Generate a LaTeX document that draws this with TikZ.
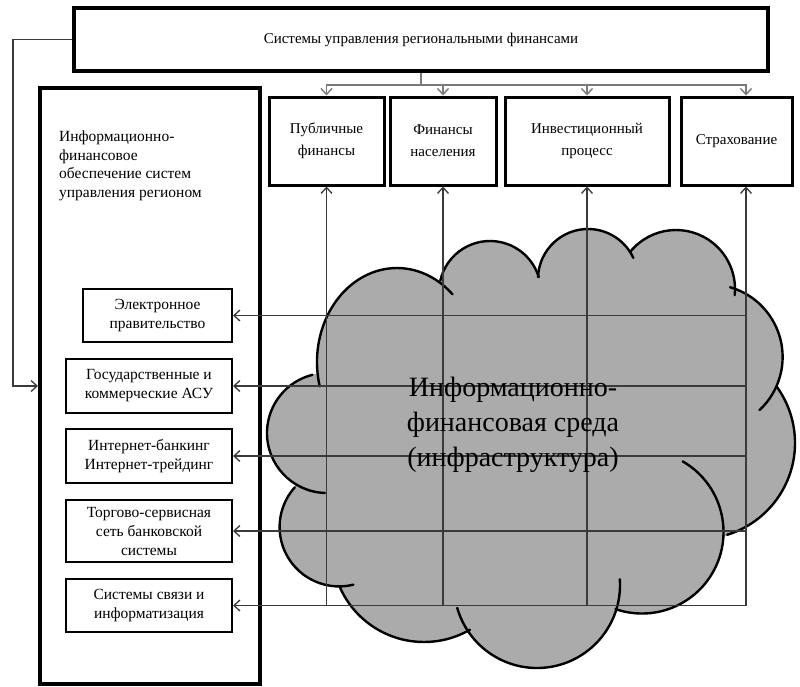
\documentclass[tikz,border=0pt]{standalone}
\usepackage{fontspec}
\setmainfont{Liberation Serif}
\usetikzlibrary{arrows.meta,calc}
\definecolor{cloudfill}{HTML}{ABABAB}
\definecolor{gridc}{HTML}{3A3A3A}
\definecolor{branchc}{HTML}{7A7A7A}
\newcommand\cloudfillbump[3]{\fill[cloudfill] (#1,#2) circle[radius=#3];}
\newcommand\cloudarc[5]{\draw[cloudline] ($(#1,#2)+(#4:#3)$) arc[start angle=#4,end angle=#5,radius=#3];}
\begin{document}
\begin{tikzpicture}[x=1pt,y=-1pt,
  cloudline/.style={draw=black,line width=2.4pt,line cap=round},
  bigbox/.style={draw=black,fill=white,line width=3.5pt,inner sep=0pt,align=center,font=\fontsize{15}{22}\selectfont},
  catbox/.style={draw=black,fill=white,line width=3pt,inner sep=0pt,align=center,font=\fontsize{15}{22}\selectfont},
  smallbox/.style={draw=black,fill=white,line width=2pt,inner sep=0pt,align=center,font=\fontsize{15.5}{19}\selectfont},
  arr/.style={draw=gridc,line width=1.3pt,-{Straight Barb[length=6pt,width=11pt,line width=1.3pt]}},
  branch/.style={draw=branchc,line width=1.6pt},
  barr/.style={draw=branchc,line width=1.6pt,-{Straight Barb[length=6pt,width=11pt,line width=1.4pt]}}
]
\useasboundingbox (0,0) rectangle (800,686);
% ---- cloud fill ----
\fill[cloudfill] (397,362) ellipse[x radius=80,y radius=94];
\cloudfillbump{490}{292}{51}
\cloudfillbump{588}{279}{50}
\cloudfillbump{676}{289}{59}
\cloudfillbump{710}{357}{72.6}
\cloudfillbump{699}{443}{96}
\cloudfillbump{642}{532}{81.5}
\cloudfillbump{537}{585}{83}
\cloudfillbump{424}{550}{92}
\cloudfillbump{339}{527}{59.4}
\cloudfillbump{327}{433}{60}
\fill[cloudfill] (320,386) -- (440,281) -- (538,277) -- (630,252) -- (731,290) -- (777,387)
  -- (727,535) -- (616,605) -- (467,627) -- (340,587) -- (295,487) -- cycle;
% ---- cloud outline ----
\draw[cloudline] ($(397,362)+(165:80 and 94)$) arc[start angle=165,end angle=314,x radius=80,y radius=94];
\cloudarc{490}{292}{51}{193}{343}
\cloudarc{588}{279}{50}{182}{335}
\cloudarc{676}{289}{59}{219}{366}
\cloudarc{710}{357}{72.6}{286}{407}
\cloudarc{699}{443}{96}{324}{433}
\cloudarc{642}{532}{81.5}{300}{469}
\cloudarc{537}{585}{83}{-4}{164}
\cloudarc{424}{550}{92}{60}{156}
\cloudarc{339}{527}{59.4}{76}{222}
\cloudarc{327}{433}{60}{92}{256}
% ---- boxes ----
\node[bigbox,minimum width=694,minimum height=63] (top) at (421,39.5)
  {Системы управления региональными финансами};
\node[draw=black,fill=white,line width=4pt,minimum width=220,minimum height=596,inner sep=0pt] (lb) at (150,386) {};
\node[anchor=west,align=left,inner sep=0pt,font=\fontsize{15.5}{18.5}\selectfont] (lbt) at (59,166)
  {Информационно-\\финансовое\\обеспечение систем\\управления регионом};
\node[catbox,minimum width=115,minimum height=88] (pf) at (326.5,141) {Публичные\\финансы};
\node[catbox,minimum width=106,minimum height=88] (fn) at (443,141) {Финансы\\населения};
\node[catbox,minimum width=164,minimum height=88] (ip) at (587,141) {Инвестиционный\\процесс};
\node[catbox,minimum width=111,minimum height=88] (st) at (736.5,141) {Страхование};
\node[smallbox,minimum width=149,minimum height=53] (ea) at (157.5,315.5) {Электронное\\правительство};
\node[smallbox,minimum width=166,minimum height=54] (gs) at (149,386) {Государственные и\\коммерческие АСУ};
\node[smallbox,minimum width=166,minimum height=54] (ib) at (149,456) {Интернет-банкинг\\Интернет-трейдинг};
\node[smallbox,minimum width=166,minimum height=62] (ts) at (149,531) {Торгово-сервисная\\сеть банковской\\системы};
\node[smallbox,minimum width=166,minimum height=53] (ss) at (149,605.5) {Системы связи и\\информатизация};
% ---- connectors ----
\coordinate (vr) at (746,0);
\coordinate (fbx) at (13,0);
\draw[branch] (top.south) -- ++(0,12) coordinate (br);
\draw[barr] (br) -| (pf.north);
\draw[barr] (br) -| (fn.north);
\draw[barr] (br) -| (ip.north);
\draw[barr] (br) -| (vr |- st.north);
\draw[arr] (top.west) -- (top.west -| fbx) |- (lb.west |- gs.east);
\draw[arr] (pf.south |- ss.east) -- (pf.south);
\draw[arr] (fn.south |- ss.east) -- (fn.south);
\draw[arr] (ip.south |- ss.east) -- (ip.south);
\draw[arr] (vr |- ss.east) -- (vr |- st.south);
\draw[arr] (vr |- ea.east) -- (ea.east);
\draw[arr] (vr |- gs.east) -- (gs.east);
\draw[arr] (vr |- ib.east) -- (ib.east);
\draw[arr] (vr |- ts.east) -- (ts.east);
\draw[arr] (vr |- ss.east) -- (ss.east);
% ---- cloud text ----
\node[align=center,inner sep=0pt,font=\fontsize{28}{35}\selectfont] (ct) at (513,425)
  {Информационно-\\финансовая среда\\(инфраструктура)};
\end{tikzpicture}
\end{document}
